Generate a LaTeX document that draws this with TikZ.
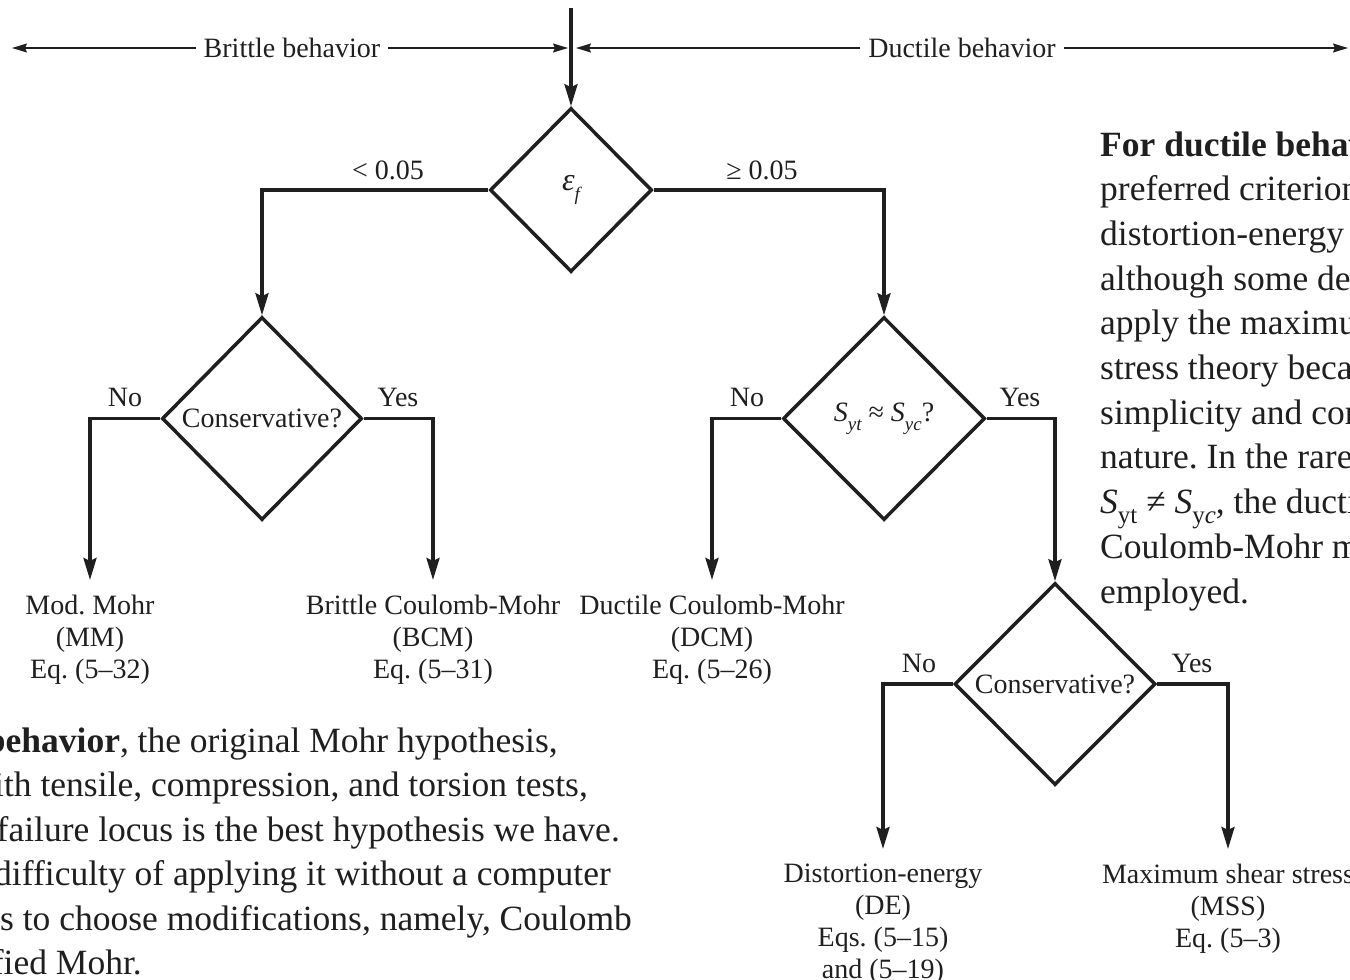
\documentclass[tikz,border=0pt]{standalone}
\usepackage{fontspec}
\setmainfont{Liberation Serif}
\usetikzlibrary{shapes.geometric,arrows.meta}
\newcommand\dsub[1]{\raisebox{-0.32em}{\fontsize{19}{19}\selectfont #1}}
\frenchspacing
\begin{document}
\begin{tikzpicture}[x=1pt,y=-1pt,
  every node/.style={text=black!88},
  dtext/.style={font=\fontsize{28}{32}\selectfont},
  dia/.style={diamond, draw=black!88, line width=3.5pt, inner sep=0pt, dtext},
  flow/.style={draw=black!88, line width=3.5pt, -{Stealth[length=22pt,width=13pt,inset=3pt]}},
  thinarrow/.style={draw=black!88, line width=1.4pt, -{Stealth[length=15pt,width=9pt,inset=2pt]}},
  lab/.style={dtext, anchor=base, inner sep=0pt},
  leaf/.style={dtext, align=center, anchor=north, inner xsep=0pt, inner ysep=15pt},
  band/.style={dtext, inner xsep=8pt, inner ysep=0pt},
  para/.style={font=\fontsize{35.5}{44.7}\selectfont, inner sep=0pt}]
\useasboundingbox (0,0) rectangle (1350,980);
\clip (0,0) rectangle (1350,980);

% top behaviour band
\coordinate (top) at (571,8);
\coordinate (bL) at (12,48);
\coordinate (bR) at (568,48);
\coordinate (dL) at (576,48);
\coordinate (dR) at (1348,48);
\node[band] (brittle) at (292,48) {Brittle behavior};
\node[band] (ductile) at (962,48) {Ductile behavior};
\draw[thinarrow] (brittle) -- (bL);
\draw[thinarrow] (brittle) -- (bR);
\draw[thinarrow] (ductile) -- (dL);
\draw[thinarrow] (ductile) -- (dR);

% decision diamonds
\node[dia, minimum width=162pt, minimum height=164pt] (d1) at (571,190) {\fontsize{32}{32}\selectfont\itshape ε\dsub{f}};
\node[dia, minimum width=200pt, minimum height=203pt] (d2) at (262,418.5) {Conservative?};
\node[dia, minimum width=202pt, minimum height=203pt] (d3) at (884,418.5) {\itshape S\dsub{yt} \upshape≈ \itshape S\dsub{yc}\upshape?};
\node[dia, minimum width=201pt, minimum height=202pt] (d4) at (1055,684) {Conservative?};

% outcomes
\node[leaf] (mm)  at (90,580)   {Mod. Mohr\\(MM)\\Eq. (5–32)};
\node[leaf] (bcm) at (433,580)  {Brittle Coulomb-Mohr\\(BCM)\\Eq. (5–31)};
\node[leaf] (dcm) at (712,580)  {Ductile Coulomb-Mohr\\(DCM)\\Eq. (5–26)};
\node[leaf] (de)  at (883,849)  {Distortion-energy\\(DE)\\Eqs. (5–15)\\and (5–19)};
\node[leaf] (mss) at (1228,849) {Maximum shear stress\\(MSS)\\Eq. (5–3)};

% connectors
\draw[flow] (top) -- (d1.north);
\draw[flow] (d1.west) -| (d2.north);
\draw[flow] (d1.east) -| (d3.north);
\draw[flow] (d2.west) -| (mm.north);
\draw[flow] (d2.east) -| (bcm.north);
\draw[flow] (d3.west) -| (dcm.north);
\draw[flow] (d3.east) -| (d4.north);
\draw[flow] (d4.west) -| (de.north);
\draw[flow] (d4.east) -| (mss.north);

% branch labels
\node[lab] (l1) at (388,179) {< 0.05};
\node[lab] (l2) at (762,179) {≥ 0.05};
\node[lab] (l3) at (125,406) {No};
\node[lab] (l4) at (398,406) {Yes};
\node[lab] (l5) at (747,406) {No};
\node[lab] (l6) at (1020,406) {Yes};
\node[lab] (l7) at (919,672) {No};
\node[lab] (l8) at (1192,672) {Yes};

% right paragraph
\node[para, anchor=base west] (r1)  at (1100,156)   {\textbf{For ductile behavior}, the};
\node[para, anchor=base west] (r2)  at (1100,200.7) {preferred criterion is the};
\node[para, anchor=base west] (r3)  at (1100,245.4) {distortion-energy theory,};
\node[para, anchor=base west] (r4)  at (1100,290.1) {although some designers};
\node[para, anchor=base west] (r5)  at (1100,334.8) {apply the maximum shear};
\node[para, anchor=base west] (r6)  at (1100,379.5) {stress theory because of its};
\node[para, anchor=base west] (r7)  at (1100,424.2) {simplicity and conservative};
\node[para, anchor=base west] (r8)  at (1100,468.9) {nature. In the rare case when};
\node[para, anchor=base west] (r9)  at (1100,513.6) {\itshape S\upshape\raisebox{-0.28em}{\fontsize{25}{25}\selectfont yt} ≠ \itshape S\upshape\raisebox{-0.28em}{\fontsize{25}{25}\selectfont y\itshape c}\upshape, the ductile};
\node[para, anchor=base west] (r10) at (1100,558.3) {Coulomb-Mohr method is};
\node[para, anchor=base west] (r11) at (1100,603)   {employed.};

% bottom-left paragraph
\node[para, anchor=base east] (p1) at (558,752)   {\textbf{For brittle behavior}, the original Mohr hypothesis,};
\node[para, anchor=base east] (p2) at (588,796.5) {constructed with tensile, compression, and torsion tests,};
\node[para, anchor=base east] (p3) at (620,841)   {with a curved failure locus is the best hypothesis we have.};
\node[para, anchor=base east] (p4) at (611,885.5) {However, the difficulty of applying it without a computer};
\node[para, anchor=base east] (p5) at (632,930)   {leads engineers to choose modifications, namely, Coulomb};
\node[para, anchor=base east] (p6) at (142,974.5) {Mohr, or modified Mohr.};
\end{tikzpicture}
\end{document}
